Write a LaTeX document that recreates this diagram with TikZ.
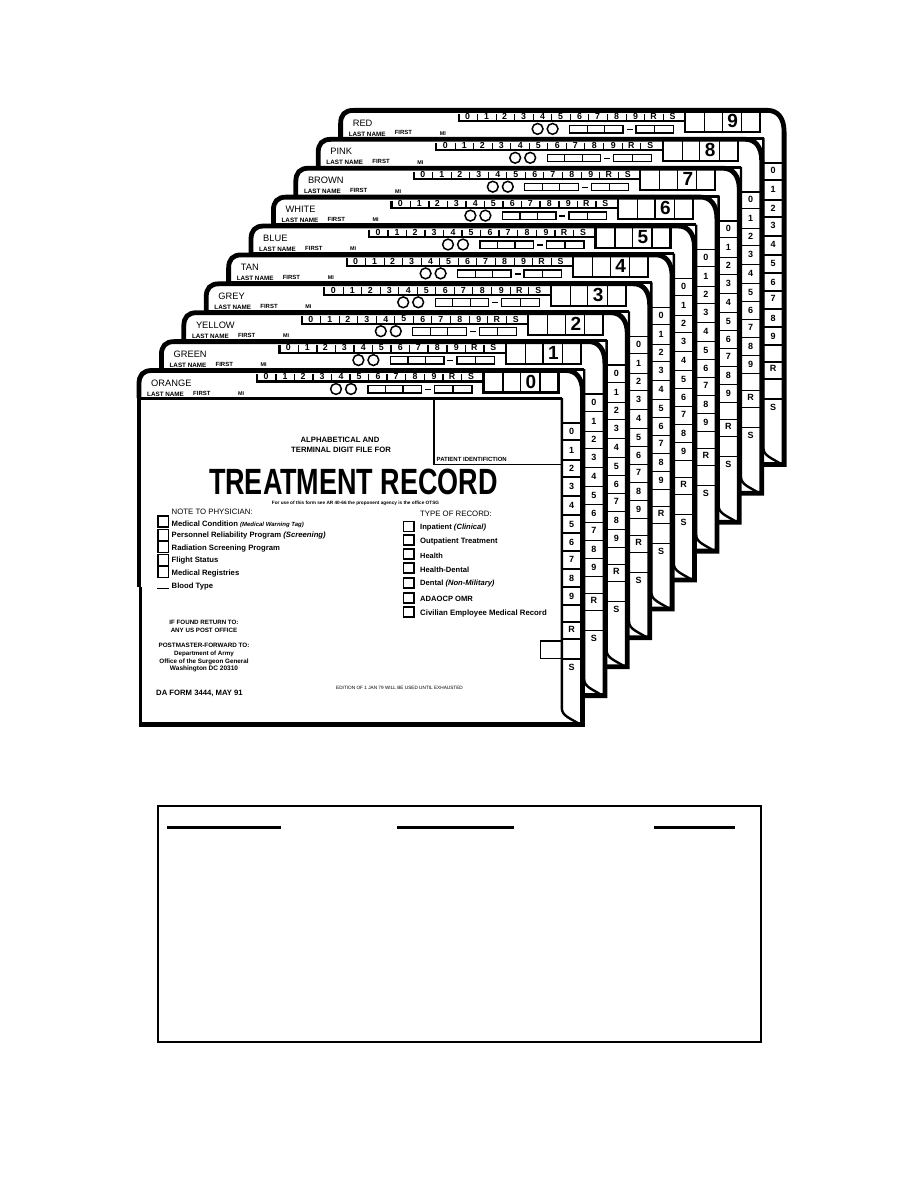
\documentclass[tikz,border=0pt]{standalone}
\usepackage{fontspec}
\setmainfont{Liberation Sans}
\newcommand{\fz}[1]{\fontsize{#1}{#1}\selectfont}
\tikzset{
  heavy/.style={line width=4.8pt},
  mid/.style={line width=2.2pt},
  thinl/.style={line width=1.2pt},
  txt/.style={inner sep=0pt,anchor=west},
  ctr/.style={inner sep=0pt,anchor=center}
}
\begin{document}
\begin{tikzpicture}[x=1pt,y=-1pt]
\useasboundingbox (0,0) rectangle (918,1188);
\fill[white] (0,0) rectangle (918,1188);
% ---------- the ten cards, back to front
\foreach \n/\lab in {9/RED,8/PINK,7/BROWN,6/WHITE,5/BLUE,4/TAN,3/GREY,2/YELLOW,1/GREEN,0/ORANGE}{
\begin{scope}[shift={({22.4*\n},{-28.9*\n})}]
  % body
  \fill[white] (139,723.5) -- (139,384) .. controls (139,375) and (143,370.5) .. (152,370.5)
     -- (566,370.5) .. controls (576,370.5) and (582.5,378) .. (582.5,392) -- (582.5,723.5) -- cycle;
  \draw[heavy,line join=miter] (139,724.5) -- (582.5,724.5) -- (582.5,392) .. controls (582.5,378) and (576,370.5) .. (566,370.5)
     -- (152,370.5) .. controls (143,370.5) and (139,375) .. (139,384) -- (139,398);
  \draw[line width=3.8pt] (138.8,398) -- (138.8,587);
  \draw[line width=3pt] (140.5,587) -- (140.5,726);
  \draw[line width=3pt] (137,398.3) -- (562,398.3);
  % digit row
  \draw[mid] (257,374) -- (257,381.5) -- (483,381.5);
  \foreach \x in {276,294.5,313,331.5,350,368.5,387,405.5,424.5,443,461.5}
    \draw[thinl] (\x,374) -- (\x,381);
  \foreach \c/\x/\t in {a/266/0,b/285/1,c/303/2,d/322/3,e/341/4,f/359/5,g/378/6,h/396/7,i/415/8,j/434/9,k/452/R,l/471/S}
    \node[ctr,font=\fz{8.8}\bfseries] (d\n\c) at (\x,376.8) {\t};
  % big digit boxes
  \draw[mid] (483.5,372) -- (483.5,392.5) -- (558.5,392.5) -- (558.5,372);
  \foreach \x in {503,520.5,540}
    \draw[thinl] (\x,372) -- (\x,392);
  \node[ctr,font=\fz{19}\bfseries] (big\n) at (531,381.5) {\n};
  % circles and number boxes
  \draw[line width=1.5pt] (336,389) circle (5.4);
  \draw[line width=1.5pt] (351,389) circle (5.4);
  \draw[line width=1.3pt] (368,385.5) rectangle (421.5,393);
  \draw[thinl] (385.5,385.5) -- (385.5,393) (403,385.5) -- (403,393);
  \draw[line width=1.3pt] (425,389.5) -- (431,389.5);
  \draw[line width=1.3pt] (434.5,385.5) rectangle (472,393);
  \draw[thinl] (453,385.5) -- (453,393);
  % names
  \node[txt,font=\fz{9.3}] (nm\n) at (151,383) {\lab};
  \node[txt,font=\fz{6.3}\bfseries] (ln\n) at (147,394) {LAST NAME};
  \node[txt,font=\fz{6}\bfseries] (fi\n) at (193,393) {FIRST};
  \node[txt,font=\fz{5.4}\bfseries] (mi\n) at (238,393.5) {MI};
  % tab column
  \draw[line width=2.4pt] (561.8,398) -- (561.8,708) .. controls (561.8,716) and (570,718) .. (581,725);
  \draw[line width=1.6pt] (561,423) -- (581,423);
  \foreach \y in {440,460,477,496,515,533,551,569,587,605,622,639,659}
    \draw[thinl] (562,\y) -- (581,\y);
  \foreach \c/\y/\t in {a/431/0,b/450/1,c/468/2,d/486/3,e/505/4,f/524/5,g/542/6,h/559/7,i/578/8,j/596/9,k/629/R,l/667/S}
    \node[ctr,font=\fz{9}\bfseries] (t\n\c) at (571.5,\y) {\t};
\end{scope}
}
% ---------- face of the front card
\draw[thinl] (434,398) -- (434,464.5) -- (561,464.5);
\node[txt,font=\fz{6}\bfseries] (pid) at (436.5,459) {PATIENT IDENTIFICTION};
\node[ctr,font=\fz{7.7}\bfseries] (alpha) at (340,440) {ALPHABETICAL AND};
\node[ctr,font=\fz{7.7}\bfseries] (term) at (341,449.5) {TERMINAL DIGIT FILE FOR};
\node[ctr] (title) at (353.5,482) {\resizebox{289pt}{25.5pt}{\bfseries TREATMENT RECORD}};
\node[ctr,font=\fz{4.7}\bfseries] (use) at (355.5,503) {For use of this form see AR 40-66 the proponent agency is the office OTSG};
\node[txt,font=\fz{7.8}] (note) at (171.5,511.5) {NOTE TO PHYSICIAN:};
\foreach \c/\y in {a/521.5,b/535,c/547,d/560,e/572}
  \draw[line width=1.5pt] (158,\y-5.5) rectangle (168.5,\y+5.5);
\node[txt,font=\fz{7.7}\bfseries] (ma) at (171.5,524) {Medical Condition {\fz{6}\itshape (Medical Warning Tag)}};
\node[txt,font=\fz{7.7}\bfseries] (mb) at (171.5,536) {Personnel Reliability Program {\itshape (Screening)}};
\node[txt,font=\fz{7.7}\bfseries] (mc) at (171.5,549) {Radiation Screening Program};
\node[txt,font=\fz{7.7}\bfseries] (md) at (171.5,561) {Flight Status};
\node[txt,font=\fz{7.7}\bfseries] (me) at (171.5,574) {Medical Registries};
\draw[line width=1.2pt] (157,588.5) -- (168.5,588.5);
\node[txt,font=\fz{7.7}\bfseries] (mf) at (171.5,587) {Blood Type};
\node[txt,font=\fz{7.8}] (type) at (420,514) {TYPE OF RECORD:};
\foreach \c/\y in {a/526.5,b/540,c/554,d/568,e/583,f/598,g/612}
  \draw[line width=1.5pt] (403.5,\y-5.2) rectangle (414,\y+5.2);
\node[txt,font=\fz{7.6}\bfseries] (ra) at (420,528) {Inpatient {\itshape (Clinical)}};
\node[txt,font=\fz{7.7}\bfseries] (rb) at (420,542) {Outpatient Treatment};
\node[txt,font=\fz{7.4}\bfseries] (rc) at (420,556) {Health};
\node[txt,font=\fz{7.6}\bfseries] (rd) at (420,570) {Health-Dental};
\node[txt,font=\fz{7.6}\bfseries] (re) at (420,584) {Dental {\itshape (Non-Military)}};
\node[txt,font=\fz{7.6}\bfseries] (rf) at (420,599) {ADAOCP OMR};
\node[txt,font=\fz{7.8}\bfseries] (rg) at (420,613) {Civilian Employee Medical Record};
\node[ctr,font=\fz{6.2}\bfseries] (fa) at (204,622) {IF FOUND RETURN TO:};
\node[ctr,font=\fz{6.2}\bfseries] (fb) at (204,630) {ANY US POST OFFICE};
\node[ctr,font=\fz{6.3}\bfseries] (fc) at (204,645) {POSTMASTER-FORWARD TO:};
\node[ctr,font=\fz{6.2}\bfseries] (fd) at (204,654) {Department of Army};
\node[ctr,font=\fz{6.3}\bfseries] (fe) at (204,662) {Office of the Surgeon General};
\node[ctr,font=\fz{6.5}\bfseries] (ff) at (204,669) {Washington DC 20310};
\node[txt,font=\fz{7.7}\bfseries] (da) at (156,693) {DA FORM 3444, MAY 91};
\node[ctr,font=\fz{4.7}] (ed) at (399.5,688) {EDITION OF 1 JAN 79 WILL BE USED UNTIL EXHAUSTED};
\draw[thinl] (561,641) -- (540.5,641) -- (540.5,658.5) -- (561,658.5);
% ---------- lower empty table
\draw[line width=1.9pt] (158,806) rectangle (761,1042);
\draw[line width=3pt] (167,827.5) -- (281,827.5);
\draw[line width=3pt] (397,827.5) -- (514,827.5);
\draw[line width=3pt] (654,827.5) -- (735,827.5);
\end{tikzpicture}
\end{document}
